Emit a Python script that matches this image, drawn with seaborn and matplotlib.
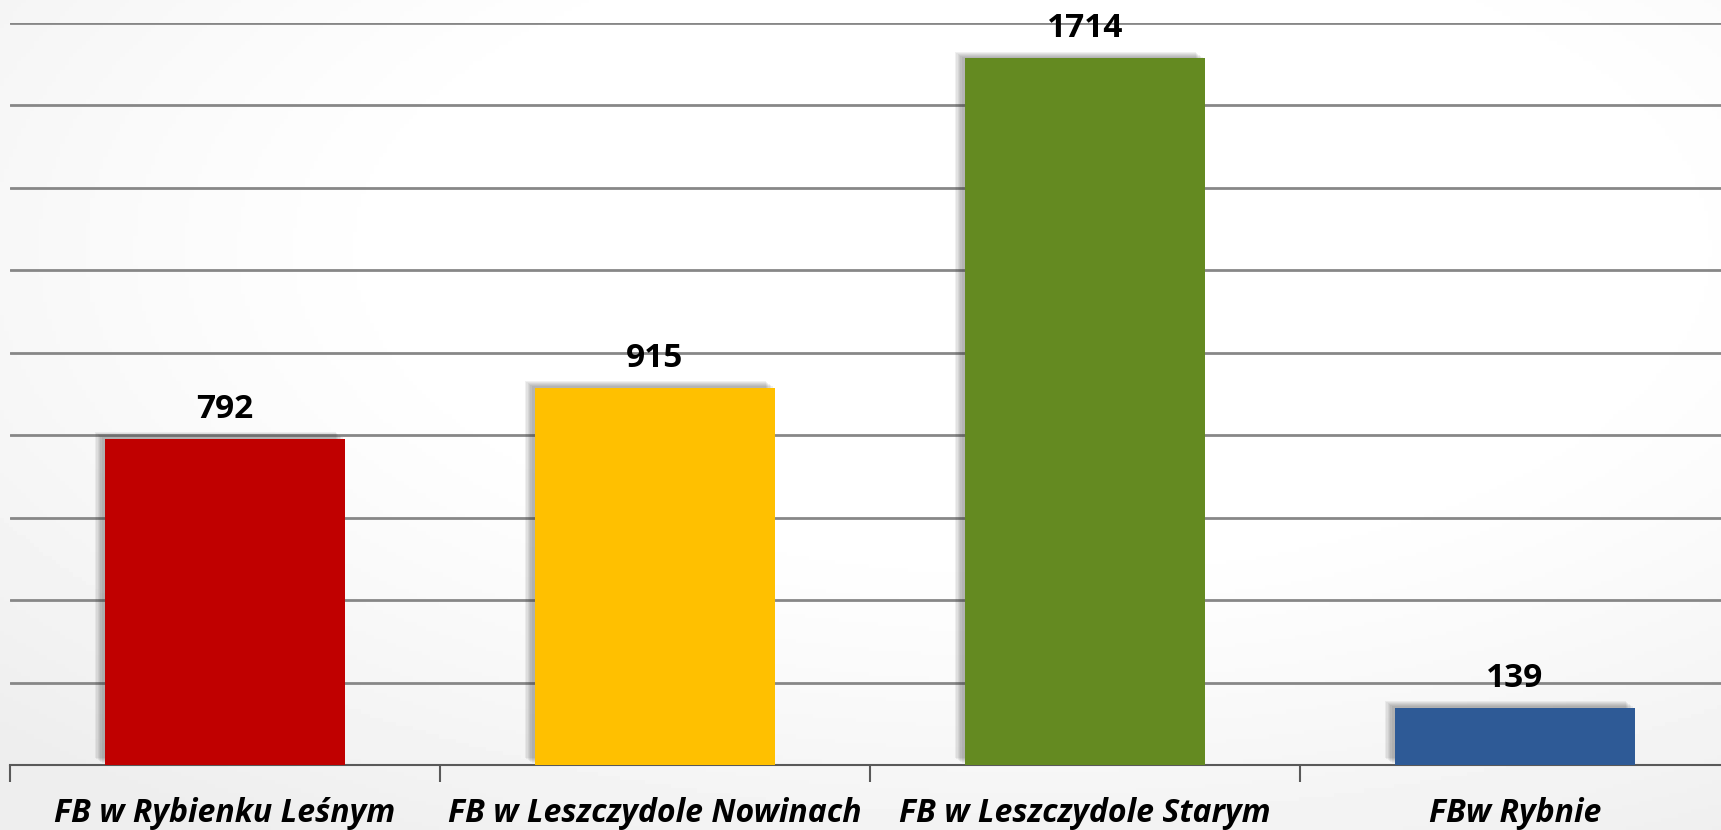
import numpy as np
import pandas as pd
import matplotlib
matplotlib.use("Agg")
import matplotlib.pyplot as plt
import matplotlib.patheffects as pe
import seaborn as sns

# data
categories = ["FB w Rybienku Leśnym", "FB w Leszczydole Nowinach",
              "FB w Leszczydole Starym", "FBw Rybnie"]
counts = [792, 915, 1714, 139]
bar_colors = ["#C00000", "#FFC000", "#648A21", "#2E5A96"]

df = pd.DataFrame({"place": categories, "count": counts})

sns.set_style("white")
plt.rcParams["font.family"] = ["Open Sans", "DejaVu Sans"]

fig = plt.figure(figsize=(17.21, 8.30), dpi=100)

# soft radial background like the slide
bg = fig.add_axes([0, 0, 1, 1], zorder=0)
yy, xx = np.mgrid[0:1:200j, 0:1:400j]
r = np.sqrt(((xx - 0.6) / 1.0) ** 2 + ((yy - 0.3) / 1.0) ** 2)
shade = 1.0 - 0.07 * np.clip((r - 0.35) / 0.5, 0, 1) ** 1.2
bg.imshow(shade, cmap="gray", vmin=0, vmax=1, aspect="auto", extent=[0, 1, 1, 0])
bg.set_axis_off()

ax = fig.add_axes([10 / 1721, 65 / 830, 1720 / 1721, 742 / 830], zorder=1)
ax.patch.set_alpha(0)

sns.barplot(data=df, x="place", y="count", hue="place", palette=bar_colors,
            width=0.56, legend=False, ax=ax, saturation=1, zorder=3)

# layered shadows to fake a blurred drop shadow (up and left)
shadow = [pe.SimplePatchShadow(offset=(-d, d * 0.7), shadow_rgbFace="#333333", alpha=0.07)
          for d in (7, 6, 5, 4, 3, 2)]
shadow.append(pe.Normal())
for bar in ax.patches:
    bar.set_path_effects(shadow)
    bar.set_linewidth(0)

for bar, v in zip(ax.patches, counts):
    ax.annotate(str(v), (bar.get_x() + bar.get_width() / 2, bar.get_height()),
                xytext=(0, 13), textcoords="offset pixels", ha="center", va="bottom",
                fontsize=24, fontweight="bold", color="black", zorder=5)

ax.set_ylim(0, 1800)
ax.set_xlim(-0.5, 3.5)
ax.set_yticks(np.arange(200, 1801, 200))
ax.yaxis.grid(True, color="#878787", linewidth=2, zorder=0)
ax.set_axisbelow(True)
ax.tick_params(axis="y", left=False, labelleft=False)

ax.set_xticks(range(len(categories)))
ax.set_xticklabels(categories, fontsize=23, fontweight="bold", fontstyle="italic",
                   color="black")
ax.tick_params(axis="x", which="major", length=0, pad=23)
ax.set_xticks(np.arange(-0.5, 4, 1), minor=True)
ax.tick_params(axis="x", which="minor", bottom=True, length=12, width=1.5,
               color="#595959")
ax.set_xlabel("")
ax.set_ylabel("")

for s in ["left", "right", "top"]:
    ax.spines[s].set_visible(False)
ax.spines["bottom"].set_color("#595959")
ax.spines["bottom"].set_linewidth(1.5)

fig.savefig("out.png", dpi=100)
